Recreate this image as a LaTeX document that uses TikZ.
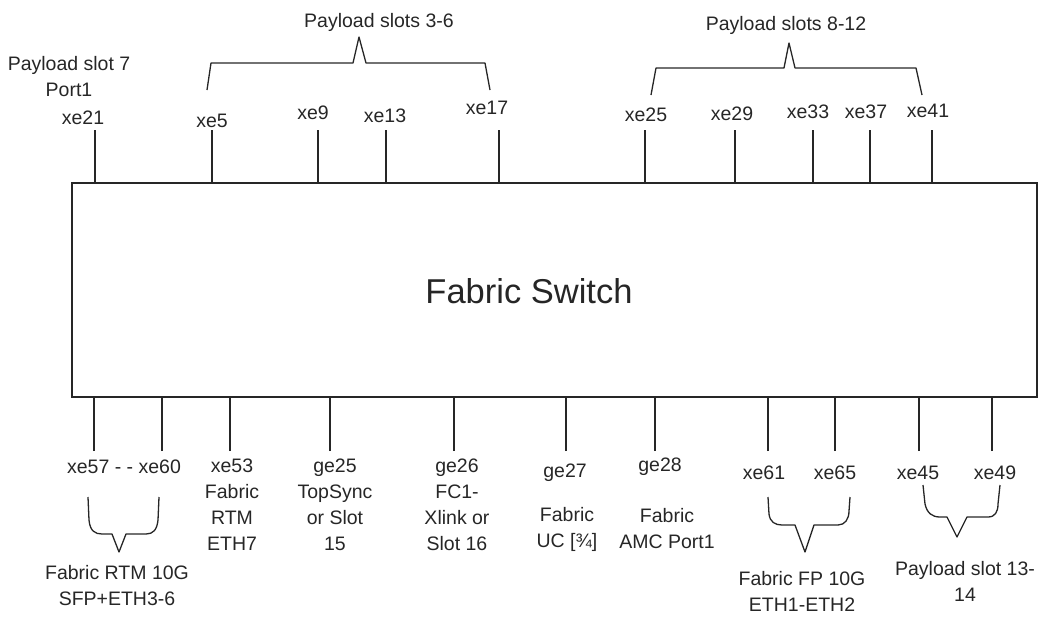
\documentclass[tikz,border=0pt]{standalone}
\usepackage{fontspec}
\setmainfont{Liberation Sans}
\begin{document}
\begin{tikzpicture}[x=1pt,y=-1pt,
  ink/.style={draw=black!85, line width=1.3pt},
  lbl/.style={inner sep=0pt, align=center, text=black!85, font=\fontsize{19.5}{26}\selectfont},
  ttl/.style={inner sep=0pt, text=black!85, font=\fontsize{34.5}{40}\selectfont},
  brace/.style={draw=black!85, line width=1.3pt, line join=round}]
\useasboundingbox (0,0) rectangle (1052,616);
% main box
\node[ink, minimum width=965pt, minimum height=214pt, inner sep=0pt] (box) at (554.5,290) {};
\node[ttl] (title) at (529,291) {Fabric Switch};

% ---------- top ports ----------
\foreach \n/\x in {t21/95, t5/212, t9/318, t13/386, t17/499, t25/645, t29/735, t33/813, t37/870, t41/932}{
  \coordinate (\n) at (\x,130);
  \draw[ink] (\n) -- (\n |- box.north);
}
\node[lbl] (p7) at (69,77) {Payload slot 7\\Port1};
\node[lbl] (l21) at (83,118) {xe21};
\node[lbl] (l5) at (212,121) {xe5};
\node[lbl] (l9) at (313,113) {xe9};
\node[lbl] (l13) at (385,116) {xe13};
\node[lbl] (l17) at (487,108) {xe17};
\node[lbl] (l25) at (646,115) {xe25};
\node[lbl] (l29) at (732,114) {xe29};
\node[lbl] (l33) at (808,112) {xe33};
\node[lbl] (l37) at (866,112) {xe37};
\node[lbl] (l41) at (928,111) {xe41};

% top braces
\node[lbl] (ps36) at (379,22) {Payload slots 3-6};
\node[lbl] (ps812) at (786,25) {Payload slots 8-12};
\coordinate (b1a) at (207,90);
\coordinate (b1b) at (490,90);
\coordinate (b1p) at (359,37);
\draw[brace] (b1a) -- (211,63) -- (353,63) -- (b1p) -- (366,63) -- (485,63) -- (b1b);
\coordinate (b2a) at (651,95);
\coordinate (b2b) at (922,95);
\coordinate (b2p) at (789,43);
\draw[brace] (b2a) -- (656,68) -- (784,68) -- (b2p) -- (795,68) -- (916,68) -- (b2b);

% ---------- bottom ports ----------
\foreach \n/\x in {d57/94, d60/162, d53/230, d25/330, d26/454, d27/566, d28/655, d61/768, d65/835, d45/919, d49/992}{
  \coordinate (\n) at (\x,451);
  \draw[ink] (\n) -- (\n |- box.south);
}
\node[lbl] (l5760) at (124,467) {xe57 - - xe60};
\node[lbl] (l53) at (232,504.5) {xe53\\Fabric\\RTM\\ETH7};
\node[lbl] (lg25) at (335,505) {ge25\\TopSync\\or Slot\\15};
\node[lbl] (lg26) at (457,505) {ge26\\FC1-\\Xlink or\\Slot 16};
\node[lbl] (lg27) at (565,473) {ge27};
\node[lbl] (lg27b) at (567,529) {Fabric\\UC [¾]};
\node[lbl] (lg28) at (660,467) {ge28};
\node[lbl] (lg28b) at (667,529) {Fabric\\AMC Port1};
\node[lbl] (l61) at (764,473) {xe61};
\node[lbl] (l65) at (835,473) {xe65};
\node[lbl] (l45) at (918,473) {xe45};
\node[lbl] (l49) at (995,473) {xe49};

% bottom braces
\node[lbl] (rtm) at (117,586) {Fabric RTM 10G\\SFP+ETH3-6};
\draw[brace] (88,497) -- (89,520) .. controls (90,531) and (95,534) .. (102,534) -- (112,534) -- (119,552) -- (126,534) -- (146,534) .. controls (153,534) and (157,530) .. (158,520) -- (159,497);
\node[lbl] (fp) at (802,591) {Fabric FP 10G\\ETH1-ETH2};
\draw[brace] (768,497) -- (769,514) .. controls (770,522) and (775,525) .. (782,525) -- (795,525) -- (805,552) -- (814,525) -- (838,525) .. controls (845,525) and (849,519) .. (849,511) -- (850,497);
\node[lbl] (p1314) at (965,581) {Payload slot 13-\\14};
\draw[brace] (923,485) -- (925,504) .. controls (927,513) and (932,517) .. (940,517) -- (947,517) -- (957,537) -- (967,517) -- (988,517) .. controls (995,517) and (998,512) .. (998,504) -- (1000,485);
\end{tikzpicture}
\end{document}
